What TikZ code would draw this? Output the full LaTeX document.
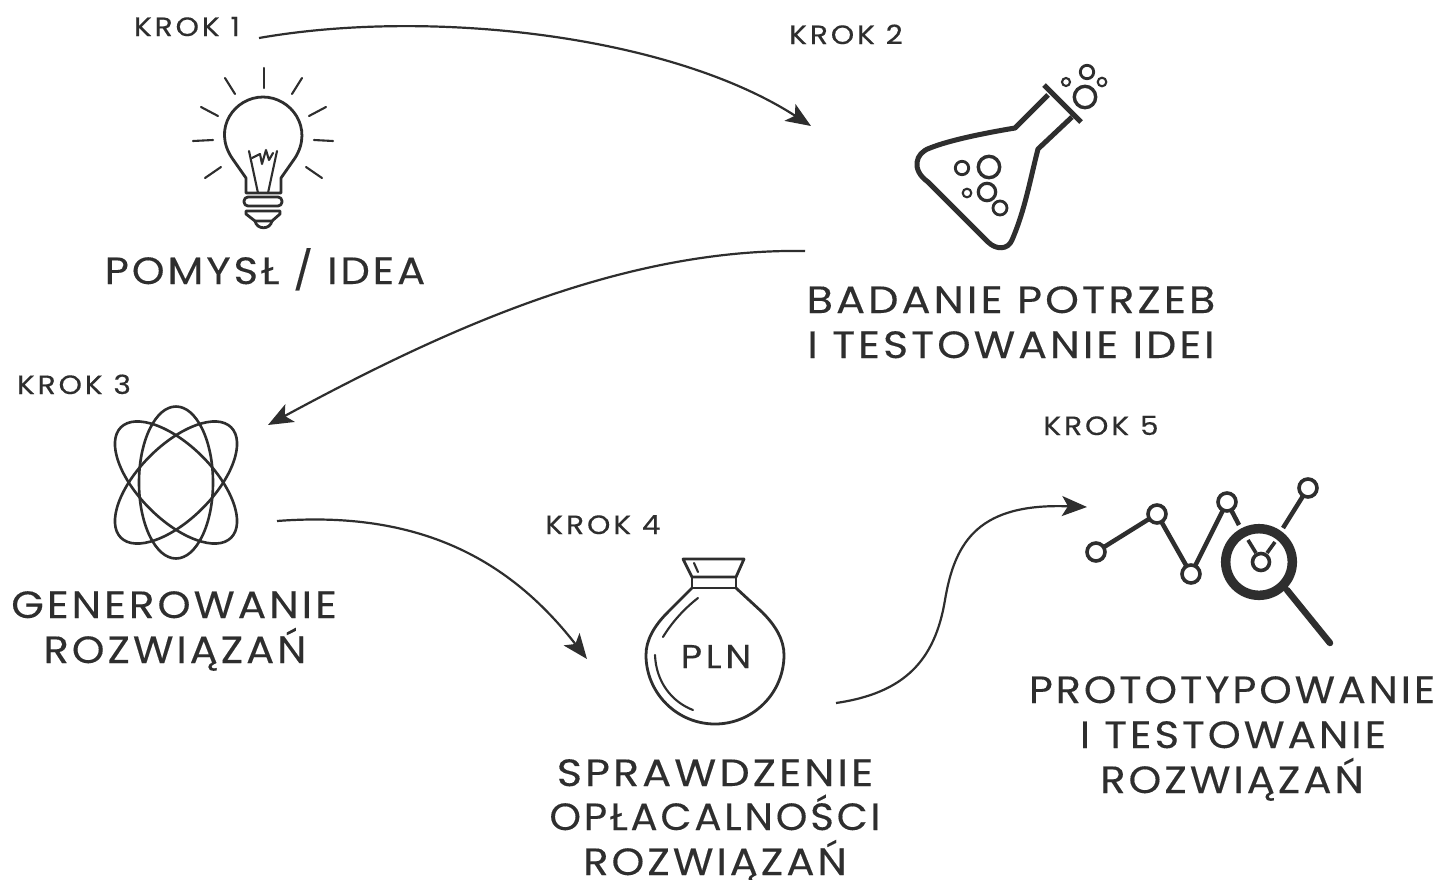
\documentclass[tikz,border=0pt]{standalone}
\usepackage{fontspec}
\setmainfont[LetterSpace=8,FakeStretch=1.12,FakeBold=0.25]{Poppins}
\newfontfamily\krokfont[LetterSpace=11,FakeStretch=1.12,FakeBold=0.25]{Poppins}
\usetikzlibrary{arrows.meta}
\definecolor{ink}{HTML}{2E2E2E}
\newcommand\fitw[2]{\scalebox{#1}[1]{#2}}
\tikzset{
 big/.style={text=ink,font=\fontsize{38}{42}\selectfont,anchor=base,inner sep=0pt},
 krok/.style={text=ink,font=\krokfont\fontsize{26.5}{30}\selectfont,anchor=base,inner sep=0pt},
 conn/.style={draw=ink,line width=2.2pt,-{Stealth[length=25pt,width=20pt,inset=6pt]}},
 thin/.style={draw=ink,line width=2.1pt,line cap=round,line join=round},
 mid/.style={draw=ink,line width=2.8pt,line cap=round,line join=round},
 thick/.style={draw=ink,line width=5pt,line join=round},
}
\begin{document}
\begin{tikzpicture}[x=1pt,y=-1pt]
\useasboundingbox (0,0) rectangle (1436,879);
\fill[white] (0,0) rectangle (1436,879);
% labels
\node[krok] (k1) at (187,36) {KROK 1};
\node[krok] (k2) at (846,44) {KROK 2};
\node[krok] (k3) at (74,394) {KROK 3};
\node[krok] (k4) at (603,534) {KROK 4};
\node[krok] (k5) at (1101,435) {KROK 5};
\node[big] (t1) at (265,284) {\fitw{0.978}{POMYSŁ / IDEA}};
\node[big] (t2a) at (1011,313) {\fitw{1.01}{BADANIE POTRZEB}};
\node[big] (t2b) at (1011,358) {I TESTOWANIE IDEI};
\node[big] (t3a) at (174,618) {\fitw{0.99}{GENEROWANIE}};
\node[big] (t3b) at (175,663) {\fitw{0.977}{ROZWIĄZAŃ}};
\node[big] (t4a) at (715,786) {\fitw{1.01}{SPRAWDZENIE}};
\node[big] (t4b) at (715,830) {\fitw{0.945}{OPŁACALNOŚCI}};
\node[big] (t4c) at (715,875) {\fitw{0.98}{ROZWIĄZAŃ}};
\node[big] (t5a) at (1232,703) {\fitw{0.971}{PROTOTYPOWANIE}};
\node[big] (t5b) at (1233,748) {\fitw{0.985}{I TESTOWANIE}};
\node[big] (t5c) at (1232,793) {\fitw{0.98}{ROZWIĄZAŃ}};
\node[krok,font=\krokfont\fontsize{33}{36}\selectfont] (pln) at (716,668) {PLN};
% connectors
\coordinate (a1s) at (259,38); \coordinate (a1e) at (811,126);
\coordinate (a2s) at (805,251); \coordinate (a2e) at (268,425);
\coordinate (a3s) at (277,521); \coordinate (a3e) at (587,659);
\coordinate (a4s) at (836,703); \coordinate (a4m) at (945,600); \coordinate (a4e) at (1087,507);
\draw[conn] (a1s) .. controls (430,8) and (670,35) .. (a1e);
\draw[conn] (a2s) .. controls (620,248) and (440,332) .. (a2e);
\draw[conn] (a3s) .. controls (420,510) and (510,560) .. (a3e);
\draw[conn] (a4s) .. controls (905,693) and (935,660) .. (a4m) .. controls (955,540) and (980,503) .. (a4e);
% bulb
\foreach \a/\b/\c/\d in {264/68/264/88,225/78/235/94,302/78/292/94,201/107/218/116,326/107/309/116,193/141/213/140,333/141/314/140,205/178/221/167,322/178/306/167}
  \draw[thin] (\a,\b) -- (\c,\d);
\draw[mid] (246,193) -- (246,178) -- (232,158) .. controls (212,128) and (235,97) .. (263,97) .. controls (291,97) and (314,128) .. (295,158) -- (281,178) -- (281,193) -- cycle;
\draw[thin] (249,151) -- (258,193) (277,151) -- (268,193);
\draw[thin] (252,158) -- (260,154) -- (262,164) -- (266,150) -- (269,160) -- (273,153);
\draw[mid,rounded corners=4pt] (244,197) rectangle (282,206);
\draw[mid] (246,211) -- (280,211) -- (280,214) -- (272,221) -- (255,221) -- (246,214) -- cycle;
\draw[mid] (255,221) .. controls (257,230) and (270,230) .. (272,221);
% flask
\draw[thick] (1048,95) -- (1015,128) .. controls (985,133) and (950,140) .. (930,148) .. controls (915,153) and (911,170) .. (928,182) -- (988,242) .. controls (996,250) and (1008,250) .. (1012,240) .. controls (1025,210) and (1030,180) .. (1038,149) -- (1072,117);
\draw[thick] (1044,85) -- (1081,122);
\foreach \x/\y/\r/\w in {989/167/10.7/3.4,962/168/6.7/2.8,987/192/8.7/3.2,967/193/4.3/2.1,1000/208/7/2.8,1085/97/10.7/3.4,1087/72/6.7/2.8,1066/82/4/2.1,1102/82/4.3/2.1}
  \draw[ink,line width=\w pt] (\x,\y) circle[radius=\r];
% atom
\draw[ink,line width=2.6pt] (176,482.5) ellipse[x radius=37,y radius=76];
\foreach \r in {45,-45}
  \draw[ink,line width=2.6pt,rotate around={\r:(176,482.5)}] (176,482.5) ellipse[x radius=37,y radius=78];
% bag
\draw[mid] (683,559) -- (744,559) -- (736,577) -- (692,577) -- cycle;
\draw[mid] (692,577) rectangle (736,588);
\draw[mid] (692,588) -- (668,612) .. controls (654,626) and (646,640) .. (646,655) .. controls (646,693) and (677,724) .. (715,724) .. controls (753,724) and (784,693) .. (784,655) .. controls (784,640) and (776,626) .. (762,612) -- (736,588);
\draw[thin] (694,563) -- (698,572);
\draw[thin] (698,598) .. controls (685,608) and (672,622) .. (663,637);
\draw[thin] (655,655) .. controls (656,682) and (672,702) .. (693,710);
% chart
\draw[ink,line width=4.5pt] (1096,552) -- (1157,514) -- (1191,574) -- (1227,502) -- (1239,525);
\draw[ink,line width=4.5pt] (1308,488) -- (1283,528);
\foreach \x/\y in {1096/552,1157/514,1191/574,1227/502,1308/488}
  \draw[ink,line width=3.6pt,fill=white] (\x,\y) circle[radius=9];
\draw[ink,line width=9.5pt,fill=white] (1259,562) circle[radius=33.3];
\draw[ink,line width=6.5pt,line cap=round] (1287,590) -- (1330,643);
\draw[ink,line width=3.6pt] (1261,562) circle[radius=8.5];
\draw[ink,line width=3.6pt] (1248,540) -- (1256,553) (1275,542) -- (1267,553);
\end{tikzpicture}
\end{document}
